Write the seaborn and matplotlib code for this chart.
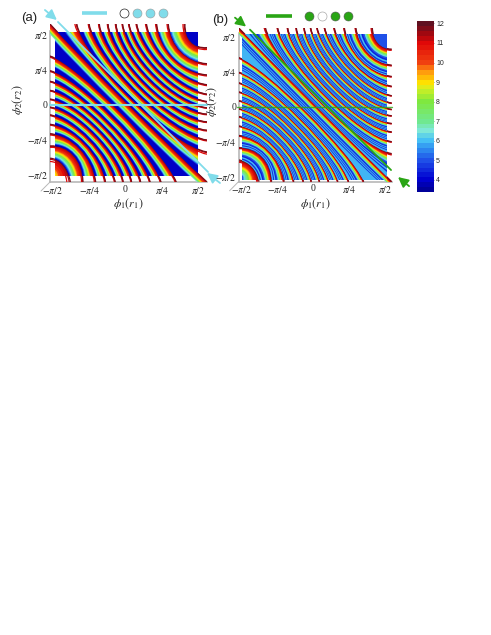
import numpy as np
import matplotlib
matplotlib.use('Agg')
import matplotlib.pyplot as plt
import seaborn as sns
from matplotlib.colors import LinearSegmentedColormap
from matplotlib.patches import PathPatch, Rectangle
from matplotlib.path import Path

# all phases in units of pi/2
lower_tips = [-0.76, -0.585, -0.41, -0.275, -0.14, -0.03, 0.085, 0.21, 0.34, 0.49, 0.70]
lower_mids = [-0.86, -0.72, -0.63, -0.56, -0.50, -0.43, -0.37, -0.31, -0.25, -0.18, -0.09]
main_mid = 0.02
upper_tips = [-0.67, -0.50, -0.36, -0.24, -0.13, -0.04, 0.05, 0.155, 0.29, 0.43, 0.59, 0.82]
upper_mids = [0.08, 0.16, 0.22, 0.28, 0.34, 0.40, 0.46, 0.52, 0.59, 0.66, 0.76, 0.90]
# how far along the chord the curve's handles sit: small turns sharply at the tips and runs flat in between
handles = [.30, .30, .28, .26, .24, .22, .20, .19, .18, .17, .16,
           .20,
           .16, .17, .18, .19, .20, .22, .22, .24, .26, .28, .30, .30]
# how much of the gap behind each fringe the colour ramp takes, lower, main, upper
tip_scale = [1.2, 1.25, 1.2, 1.1, 1.0, 1.0, 1.0, 1.0, 0.95, 0.9, 0.85,
             0.5,
             0.85, 0.9, 0.95, 1.0, 1.0, 1.0, 1.0, 1.1, 1.2, 1.25, 1.25, 1.3]
mid_scale = [1.25, 1.25, 1.1, 1.0, 1.0, 1.0, 1.0, 1.0, 1.0, 1.0, 1.0,
             1.0,
             1.0, 1.0, 1.0, 1.0, 1.0, 1.0, 1.0, 1.0, 1.0, 1.1, 1.25, 1.3]

# sawtooth profile behind each sharp edge: fraction of the gap, colour bar level
profile_a_frac = [0, .03, .09, .16, .24, .30, .35, .40, .45, .49, .54, .59, .64, .69, .75]
profile_a_lev = [11.8, 11.3, 11, 10.5, 10, 9.5, 9, 8.5, 8, 7.5, 7, 6.5, 6, 5, 3.9]
profile_b_frac = [0, .03, .06, .10, .14, .17, .20, .23, .26, .29, .32, .36, .42, .50, .58, .66, .74, .83, .92]
profile_b_lev = [11.8, 11.3, 11, 10.5, 10, 9.5, 9, 8.5, 8, 7.5, 7, 6.3, 5.0, 4.4, 6.0, 4.6, 6.0, 4.6, 5.9]

cbar_levels = [12, 11.75, 11.5, 11.25, 11, 10.75, 10.5, 10.25, 10, 9.75, 9.5, 9.25, 9, 8.75, 8.5, 8.25, 8,
               7.75, 7.5, 7.25, 7, 6.75, 6.5, 6.25, 6, 5.75, 5.5, 5.25, 5, 4.75, 4.5, 4.25, 4, 3.75, 3.5]
cbar_ticks = [12, 11, 10, 9, 8, 7, 6, 5, 4]
cmap_levels = [3.5, 4.0, 5.0, 5.6, 6.0, 6.5, 7.0, 8.0, 8.7, 9.0, 9.6, 10.0, 11.0, 11.5, 12.0]
cmap_colors = ['#00009a', '#0000d0', '#1f50e8', '#2f90f0', '#45c0f5', '#7fe8d8', '#70e890', '#7fe83f',
               '#d8f020', '#ffe000', '#ff9010', '#f04010', '#e00808', '#a00810', '#601020']

tick_vals = [-1, -0.5, 0, 0.5, 1]
tick_text = [r'$-\pi/2$', r'$-\pi/4$', '0', r'$\pi/4$', r'$\pi/2$']

W, H = 491, 635
CYAN = '#80DCEA'
GREEN = '#2AA515'

sns.set_style("white")
plt.rcParams['font.family'] = ['Liberation Sans', 'DejaVu Sans']
plt.rcParams['mathtext.fontset'] = 'stix'

cmap = LinearSegmentedColormap.from_list(
    'bar', [((l - 3.5) / 8.5, c) for l, c in zip(cmap_levels, cmap_colors)])


def level_color(level):
    return cmap((level - 3.5) / 8.5)


def add_axes_px(fig, left, top, right, bottom):
    return fig.add_axes([left / W, 1 - bottom / H, (right - left) / W, (bottom - top) / H])


def fringe_list(xlim, ylim):
    # each fringe as (start, end, middle) of a curve through its two tips and diagonal crossing
    out = []
    for t, d in zip(lower_tips, lower_mids):
        out.append(((xlim[0], t), (t, ylim[0]), d))
    out.append(((xlim[0], ylim[1]), (xlim[1], ylim[0]), main_mid))
    for t, d in zip(upper_tips, upper_mids):
        out.append(((t, ylim[1]), (xlim[1], t), d))
    return [(np.array(a), np.array(b), np.array([d, d])) for a, b, d in out]


def ramp_curve(hi, lo, f, s_tip, s_mid, handle):
    # the curve a fraction f into the gap, tips and middle move by their own scale
    g, m = f * s_tip, f * s_mid
    a = (1 - g) * hi[0] + g * lo[0]
    b = (1 - g) * hi[1] + g * lo[1]
    mid = (1 - m) * hi[2] + m * lo[2]
    bow = 4 / 3 * (mid - (a + b) / 2)
    return a, a + handle * (b - a) + bow, b - handle * (b - a) + bow, b


def curve_region(a, c1, c2, b):
    verts = [a, c1, c2, b, (b[0], -3), (-3, -3), (-3, a[1]), a]
    codes = [Path.MOVETO, Path.CURVE4, Path.CURVE4, Path.CURVE4, Path.LINETO, Path.LINETO, Path.LINETO,
             Path.CLOSEPOLY]
    return Path(verts, codes)


def draw_field(ax, fracs, levels, base_level, square, xlim, ylim):
    clip = Rectangle((square[0], square[2]), square[1] - square[0], square[3] - square[2],
                     transform=ax.transData, fill=False, lw=0)
    ax.add_patch(clip)
    ax.add_patch(Rectangle((square[0], square[2]), square[1] - square[0], square[3] - square[2],
                           fc=level_color(base_level), ec='none', zorder=1))
    fringes = fringe_list(xlim, ylim)
    # corner seed below the first fringe, so the lowest band has something to fade to
    seed = (np.array([xlim[0], -1.2]), np.array([-1.2, ylim[0]]), np.array([-1.1, -1.1]))
    fringes = [seed] + fringes
    main_idx = len(lower_tips) + 1
    for i in range(len(fringes) - 1, 0, -1):
        hi, lo = fringes[i], fringes[i - 1]
        st, sm, hd = tip_scale[i - 1], mid_scale[i - 1], handles[i - 1]
        for f, lev in zip(fracs, levels):
            p = PathPatch(curve_region(*ramp_curve(hi, lo, f, st, sm, hd)), fc=level_color(lev), ec='none', lw=0,
                          zorder=2)
            ax.add_patch(p)
            p.set_clip_path(clip)
        # tips: strokes under the field, so only the part outside the square shows
        n_tip = 12 if i == main_idx else 3
        for f, lev in list(zip(fracs, levels))[:n_tip][::-1]:
            path = Path(ramp_curve(hi, lo, f, st, sm, hd), [Path.MOVETO, Path.CURVE4, Path.CURVE4, Path.CURVE4])
            ax.add_patch(PathPatch(path, fc='none', ec=level_color(lev), lw=0.9, zorder=0.5))


def style_axes(ax, xlim, ylim, label_x):
    ax.set_xlim(xlim)
    ax.set_ylim(ylim)
    ax.patch.set_alpha(0)
    ax.set_xticks(tick_vals)
    ax.set_xticklabels(tick_text, fontsize=7, family='Liberation Serif')
    ax.set_yticks(tick_vals)
    ax.set_yticklabels(tick_text, fontsize=7, family='Liberation Serif')
    ax.tick_params(axis='both', length=0, colors='#222222')
    ax.tick_params(axis='x', pad=2)
    ax.tick_params(axis='y', pad=1.5)
    sns.despine(ax=ax)
    for s in ['left', 'bottom']:
        ax.spines[s].set_color('#b8b8b8')
        ax.spines[s].set_linewidth(1.2)
        ax.spines[s].set_zorder(0.2)
    ax.spines['left'].set_bounds(ylim[0], 1.05)
    ax.plot([xlim[0], xlim[0] - 0.124], [ylim[0], ylim[0] - 0.129], color='#b8b8b8', lw=0.7, clip_on=False)
    ax.set_xlabel(r'$\phi_1(r_1)$', fontsize=8.5, labelpad=0.5, color='#222222')
    ax.set_ylabel(r'$\phi_2(r_2)$', fontsize=8.5, color='#222222')
    ax.yaxis.set_label_coords(label_x, 0.52)


def add_arrow(ax, start, end, color):
    ax.annotate('', xy=end, xytext=start, annotation_clip=False, zorder=6,
                arrowprops=dict(arrowstyle='-|>,head_length=0.6,head_width=0.3', color=color, lw=1.3,
                                shrinkA=0, shrinkB=0))


fig = plt.figure(figsize=(W / 100, H / 100), dpi=100)

# panel a
ax_a = add_axes_px(fig, 50, 24, 207, 182)
xlim_a, ylim_a = (-1.04, 1.124), (-1.10, 1.157)
draw_field(ax_a, profile_a_frac, profile_a_lev, 3.9, (-0.97, 1.0, -1.01, 1.04), xlim_a, ylim_a)
style_axes(ax_a, xlim_a, ylim_a, -0.16)
ax_a.plot([-0.93, 1.138], [1.186, -0.957], color=CYAN, lw=1.3, clip_on=False, zorder=5)
ax_a.plot([-1.04, 1.124], [0, 0], color=CYAN, lw=1.5, clip_on=False, zorder=5)
add_arrow(ax_a, (-1.11, 1.357), (-0.945, 1.214), CYAN)
add_arrow(ax_a, (1.303, -1.114), (1.124, -0.971), CYAN)

# panel b
ax_b = add_axes_px(fig, 238.5, 27.7, 391.7, 181.7)
xlim_b, ylim_b = (-1.046, 1.09), (-1.07, 1.124)
draw_field(ax_b, profile_b_frac, profile_b_lev, 5.0, (-1.0, 1.03, -1.05, 1.04), xlim_b, ylim_b)
style_axes(ax_b, xlim_b, ylim_b, -0.127)
ax_b.plot([-0.886, 1.081], [1.096, -0.904], color=GREEN, lw=1.3, clip_on=False, zorder=5)
ax_b.plot([-1.07, 1.09], [0, 0], color=GREEN, lw=1.0, alpha=0.8, clip_on=False, zorder=5)
add_arrow(ax_b, (-1.095, 1.267), (-0.94, 1.14), GREEN)
add_arrow(ax_b, (1.332, -1.133), (1.178, -1.004), GREEN)

# colour bar
cax = add_axes_px(fig, 417, 21, 434, 192)
sns.heatmap(np.array(cbar_levels).reshape(-1, 1), ax=cax, cmap=cmap, vmin=3.5, vmax=12, cbar=False,
            xticklabels=False, yticklabels=False)
cax.yaxis.tick_right()
cax.set_yticks([cbar_levels.index(v) + 0.5 for v in cbar_ticks])
cax.set_yticklabels([str(v) for v in cbar_ticks], fontsize=5, rotation=0)
cax.tick_params(axis='y', direction='in', length=1.5, width=0.4, pad=1.5, color='#333333', right=True)

# overlay in pixels for panel letters and the line/site keys
over = fig.add_axes([0, 0, 1, 1], zorder=10)
over.set_xlim(0, W)
over.set_ylim(H, 0)
over.axis('off')
over.text(21, 18, '(a)', fontsize=9.5, va='center', color='#222222')
over.text(212, 20, '(b)', fontsize=9.5, va='center', color='#222222')
over.plot([82, 107], [12.7, 12.7], color=CYAN, lw=2.6, solid_capstyle='butt')
over.plot([266, 292], [16, 16], color=GREEN, lw=2.6, solid_capstyle='butt')
over.scatter([124], [13], s=42, fc='white', ec='#222222', lw=0.5)
over.scatter([137, 150, 163], [13, 13, 13], s=42, fc=CYAN, ec='#999999', lw=0.4)
over.scatter([322], [16], s=42, fc='white', ec='#aaaaaa', lw=0.5)
over.scatter([309, 335, 348], [16, 16, 16], s=42, fc=GREEN, ec='#555555', lw=0.4)

fig.savefig('out.png', dpi=100)
